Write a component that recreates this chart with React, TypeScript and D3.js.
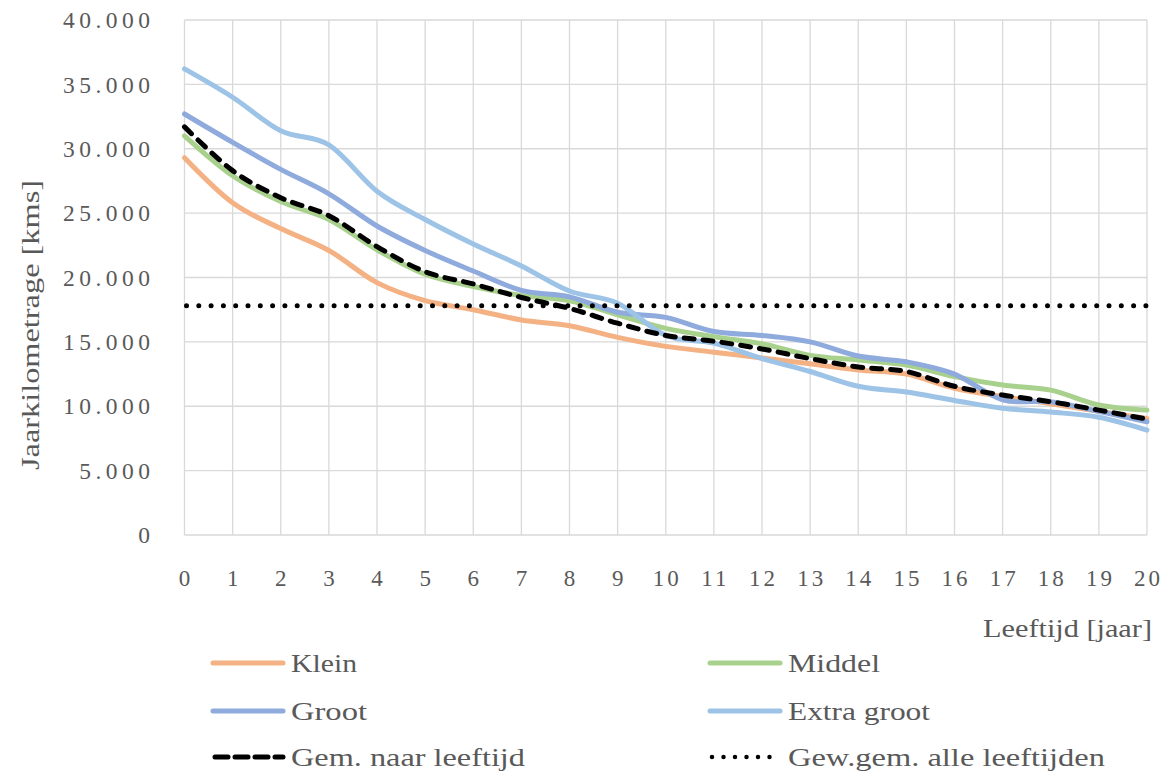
import React from "react";
import * as d3 from "d3";

const ages = d3.range(0, 21);
const klein = [29300, 25800, 23800, 22100, 19600, 18200, 17500, 16700, 16250, 15350, 14650, 14200, 13750, 13300, 12820, 12500, 11400, 10750, 10200, 9600, 9050];
const middel = [31000, 27900, 25900, 24500, 22150, 20250, 19300, 18600, 18200, 17100, 16050, 15400, 14850, 13950, 13600, 13200, 12300, 11650, 11250, 10100, 9700];
const groot = [32700, 30500, 28400, 26500, 24000, 22100, 20500, 19000, 18500, 17300, 16900, 15800, 15500, 15000, 13900, 13450, 12500, 10500, 10350, 9600, 8800];
const extraGroot = [36200, 34000, 31400, 30300, 26700, 24500, 22600, 20900, 18950, 18000, 15500, 14900, 13700, 12700, 11550, 11100, 10450, 9850, 9550, 9150, 8150];
const gemNaarLeeftijd = [31700, 28300, 26200, 24800, 22400, 20450, 19500, 18450, 17600, 16450, 15500, 15050, 14450, 13700, 13050, 12700, 11550, 10870, 10350, 9700, 9000];
const gewGemAlle = 17800;
const yTicks = [0, 5000, 10000, 15000, 20000, 25000, 30000, 35000, 40000];

const seriesNames = ["Klein", "Middel", "Groot", "Extra groot", "Gem. naar leeftijd", "Gew.gem. alle leeftijden"];
const colors = ["#F4B183", "#A9D18E", "#8FAADC", "#9DC3E6", "#000000", "#000000"];

const FONT = "'Liberation Serif', serif";
const TXT = "#595959";

export default function App() {
  const W = 1169, H = 776;
  const x = d3.scaleLinear().domain([0, 20]).range([184.5, 1147]);
  const y = d3.scaleLinear().domain([0, 40000]).range([535, 20]);
  const line = d3
    .line<number>()
    .x((_, i) => x(ages[i]))
    .y((d) => y(d))
    .curve(d3.curveCatmullRom.alpha(0));

  const fmt = (v: number) => (v === 0 ? "0" : d3.format(",")(v).replace(/,/g, "."));

  const solid = [klein, middel, groot, extraGroot];

  const legendItems = [
    { name: seriesNames[0], col: 0, row: 0, type: "solid", c: colors[0], tl: 66 },
    { name: seriesNames[1], col: 1, row: 0, type: "solid", c: colors[1], tl: 92 },
    { name: seriesNames[2], col: 0, row: 1, type: "solid", c: colors[2], tl: 76 },
    { name: seriesNames[3], col: 1, row: 1, type: "solid", c: colors[3], tl: 142 },
    { name: seriesNames[4], col: 0, row: 2, type: "dash", c: colors[4], tl: 234 },
    { name: seriesNames[5], col: 1, row: 2, type: "dot", c: colors[5], tl: 317 },
  ];
  const legX = [213, 710];
  const legY = [663, 711, 757];

  return (
    <svg width={W} height={H} style={{ position: "absolute", left: 0, top: 0, background: "#fff" }} fontFamily={FONT}>
      <rect x={0} y={0} width={W} height={H} fill="#fff" />
      {/* grid */}
      {yTicks.map((t) => (
        <line key={"h" + t} x1={x(0)} x2={x(20)} y1={y(t)} y2={y(t)} stroke="#D9D9D9" strokeWidth={1.3} />
      ))}
      {ages.map((a) => (
        <line key={"v" + a} x1={x(a)} x2={x(a)} y1={y(0)} y2={y(40000)} stroke="#D9D9D9" strokeWidth={1.3} />
      ))}
      {/* y tick labels */}
      {yTicks.map((t) => (
        <text key={"yt" + t} x={154.5} y={y(t)} dy="0.35em" textAnchor="end" fontSize={23.5} letterSpacing={4.5} fill={TXT}>
          {fmt(t)}
        </text>
      ))}
      {/* x tick labels */}
      {ages.map((a) => (
        <text key={"xt" + a} x={x(a) + 1.5} y={578} dy="0.35em" textAnchor="middle" fontSize={23} letterSpacing={3} fill={TXT}>
          {a}
        </text>
      ))}
      {/* axis titles */}
      <text
        transform={`translate(30,325) rotate(-90)`}
        textAnchor="middle"
        dy="0.35em"
        fontSize={25}
        fill={TXT}
        textLength={290}
        lengthAdjust="spacingAndGlyphs"
      >
        Jaarkilometrage [kms]
      </text>
      <text x={983} y={628} dy="0.35em" fontSize={25} fill={TXT} textLength={169} lengthAdjust="spacingAndGlyphs">
        Leeftijd [jaar]
      </text>
      {/* series */}
      {solid.map((s, i) => (
        <path key={"s" + i} d={line(s) || ""} fill="none" stroke={colors[i]} strokeWidth={5} strokeLinecap="round" />
      ))}
      <path d={line(gemNaarLeeftijd) || ""} fill="none" stroke="#000" strokeWidth={5} strokeDasharray="10 9" strokeLinecap="round" />
      <line
        x1={x(0) + 2}
        x2={x(20)}
        y1={y(gewGemAlle)}
        y2={y(gewGemAlle)}
        stroke="#000"
        strokeWidth={5}
        strokeDasharray="0 12.3"
        strokeLinecap="round"
      />
      {/* legend */}
      {legendItems.map((it) => {
        const lx = legX[it.col];
        const ly = legY[it.row];
        return (
          <g key={it.name}>
            {it.type === "solid" && (
              <line x1={lx} x2={lx + 70} y1={ly} y2={ly} stroke={it.c} strokeWidth={5} strokeLinecap="round" />
            )}
            {it.type === "dash" && (
              <line x1={lx + 2} x2={lx + 70} y1={ly} y2={ly} stroke={it.c} strokeWidth={5} strokeDasharray="13 7" strokeLinecap="round" />
            )}
            {it.type === "dot" && (
              <line x1={lx + 2} x2={lx + 70} y1={ly} y2={ly} stroke={it.c} strokeWidth={4.5} strokeDasharray="0 11.5" strokeLinecap="round" />
            )}
            <text x={lx + 78} y={ly} dy="0.35em" fontSize={26} fill={TXT} textLength={it.tl} lengthAdjust="spacingAndGlyphs">
              {it.name}
            </text>
          </g>
        );
      })}
    </svg>
  );
}
